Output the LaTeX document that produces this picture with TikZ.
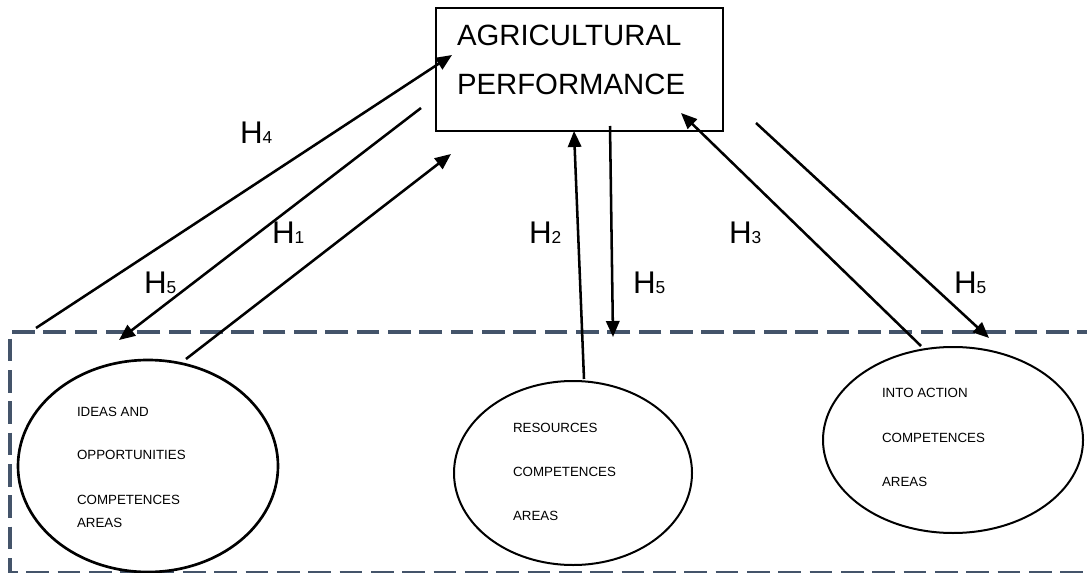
\documentclass[tikz,border=0pt]{standalone}
\usepackage{fontspec}
\setmainfont{Liberation Sans}
\usetikzlibrary{shapes.geometric,arrows.meta}
\definecolor{framegray}{HTML}{44546A}
\tikzset{
  every node/.style={inner sep=0pt, outer sep=0pt},
  bigtext/.style={anchor=base west, font=\fontsize{22}{25}\selectfont},
  smalltext/.style={anchor=base west, font=\fontsize{10}{12}\selectfont},
  hlabel/.style={anchor=base west},
  areaellipse/.style={ellipse, draw, line width=1.5pt},
  link/.style={line width=1.9pt, -{Triangle[length=12pt,width=10pt]}},
  frame/.style={draw=framegray, line width=2.6pt, dash pattern=on 17pt off 6.5pt}
}
\newcommand{\hyp}[1]{{\fontsize{23.5}{26}\selectfont H}{\fontsize{13}{15}\selectfont #1}}
\begin{document}
\begin{tikzpicture}[x=0.75pt, y=-0.75pt]
  \clip (0,0) rectangle (1087,573);
  \fill[white] (0,0) rectangle (1087,573);

  % dashed frame around the competence areas
  \draw[frame] (1100,332) -- (10,332) -- (10,573) -- (1100,573);

  % outcome box
  \node[draw, line width=1.8pt, rectangle, minimum width=215.25pt, minimum height=92.25pt]
    (perf) at (579.5,69.5) {};
  \node[bigtext] (perfA) at (457,46) {AGRICULTURAL};
  \node[bigtext] (perfB) at (457,95) {PERFORMANCE};

  % competence areas
  \node[areaellipse, line width=2pt, minimum width=195pt, minimum height=159pt] (ideas) at (148,466) {};
  \node[areaellipse, minimum width=178.5pt, minimum height=138pt] (res) at (573,473) {};
  \node[areaellipse, minimum width=195pt, minimum height=139.5pt] (act) at (953,440) {};

  \node[smalltext] (ideasA) at (77,416) {IDEAS AND};
  \node[smalltext] (ideasB) at (77,459) {OPPORTUNITIES};
  \node[smalltext] (ideasC) at (77,504) {COMPETENCES};
  \node[smalltext] (ideasD) at (77,527) {AREAS};

  \node[smalltext] (resA) at (513,432) {RESOURCES};
  \node[smalltext] (resB) at (513,476) {COMPETENCES};
  \node[smalltext] (resC) at (513,520) {AREAS};

  \node[smalltext] (actA) at (882,397) {INTO ACTION};
  \node[smalltext] (actB) at (882,442) {COMPETENCES};
  \node[smalltext] (actC) at (882,486) {AREAS};

  % connector end points
  \coordinate (h4s) at (36,328);
  \coordinate (h4e) at (452,55);
  \coordinate (h5as) at (421,108);
  \coordinate (h5ae) at (119,340);
  \coordinate (h1s) at (186,359);
  \coordinate (h1e) at (451,154);
  \coordinate (h2s) at (584,379);
  \coordinate (h2e) at (574,131);
  \coordinate (h5bs) at (610,126);
  \coordinate (h5be) at (613,337);
  \coordinate (h3s) at (921,346);
  \coordinate (h3e) at (681,113);
  \coordinate (h5cs) at (756,123);
  \coordinate (h5ce) at (989,338);

  % hypothesised paths
  \draw[link] (h4s) -- (h4e);
  \draw[link] (h5as) -- (h5ae);
  \draw[link] (h1s) -- (h1e);
  \draw[link] (h2s) -- (h2e);
  \draw[link] (h5bs) -- (h5be);
  \draw[link] (h3s) -- (h3e);
  \draw[link] (h5cs) -- (h5ce);

  % path labels
  \node[hlabel] (lh4) at (240,144) {\hyp{4}};
  \node[hlabel] (lh1) at (272,244) {\hyp{1}};
  \node[hlabel] (lh5a) at (144,294) {\hyp{5}};
  \node[hlabel] (lh2) at (529,244) {\hyp{2}};
  \node[hlabel] (lh5b) at (633,294) {\hyp{5}};
  \node[hlabel] (lh3) at (729,244) {\hyp{3}};
  \node[hlabel] (lh5c) at (954,294) {\hyp{5}};
\end{tikzpicture}
\end{document}
